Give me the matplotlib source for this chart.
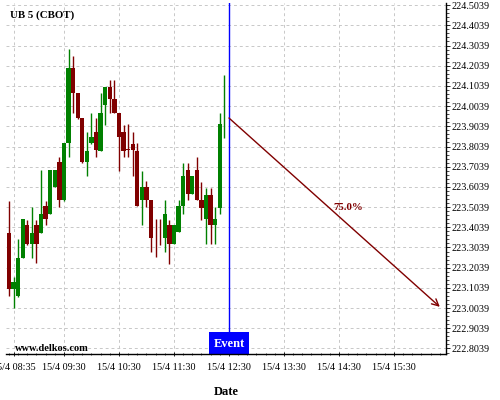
import matplotlib
matplotlib.use("Agg")
import matplotlib.pyplot as plt
from matplotlib.ticker import MultipleLocator, AutoMinorLocator
from matplotlib.patches import Rectangle
import numpy as np

# ---- data (5-minute candles starting 15/4 08:30) ----
opens = [223.378, 223.098, 223.066, 223.254, 223.413, 223.320, 223.413, 223.378,
         223.507, 223.472, 223.602, 223.725, 223.537, 223.819, 224.195, 224.068,
         223.943, 223.725, 223.819, 223.878, 223.784, 224.008, 224.101, 224.037,
         223.972, 223.878, 223.793, 223.817, 223.784, 223.538, 223.601, 223.538,
         223.357, 223.357, 223.352, 223.413, 223.320, 223.380, 223.507, 223.690,
         223.568, 223.690, 223.537, 223.444, 223.566, 223.413, 223.497, 223.944]
closes = [223.098, 223.131, 223.254, 223.443, 223.320, 223.378, 223.320, 223.472,
          223.444, 223.689, 223.689, 223.537, 223.819, 224.195, 224.068, 223.943,
          223.725, 223.784, 223.849, 223.785, 223.972, 224.101, 224.037, 223.972,
          223.850, 223.784, 223.787, 223.787, 223.508, 223.601, 223.538, 223.352,
          223.355, 223.355, 223.472, 223.320, 223.413, 223.507, 223.660, 223.568,
          223.660, 223.537, 223.497, 223.566, 223.413, 223.443, 223.913, 223.947]
highs = [223.535, 223.157, 223.347, 223.443, 223.441, 223.505, 223.441, 223.689,
         223.535, 223.689, 223.689, 223.751, 223.819, 224.288, 224.253, 224.068,
         223.943, 223.878, 223.972, 223.943, 224.068, 224.101, 224.131, 224.131,
         223.972, 223.911, 223.913, 223.878, 223.819, 223.685, 223.631, 223.538,
         223.443, 223.443, 223.537, 223.441, 223.413, 223.537, 223.723, 223.723,
         223.660, 223.753, 223.627, 223.598, 223.598, 223.503, 223.971, 224.160]
lows = [223.065, 223.005, 223.061, 223.251, 223.317, 223.251, 223.225, 223.375,
        223.413, 223.469, 223.601, 223.505, 223.533, 223.753, 223.971, 223.938,
        223.721, 223.659, 223.815, 223.753, 223.783, 223.911, 223.971, 223.971,
        223.685, 223.751, 223.751, 223.660, 223.508, 223.413, 223.505, 223.283,
        223.256, 223.317, 223.283, 223.223, 223.320, 223.380, 223.471, 223.537,
        223.568, 223.537, 223.441, 223.319, 223.319, 223.319, 223.471, 223.847]

start_time = "08:30"
bar_minutes = 5
tick_labels = ["15/4 08:35", "15/4 09:30", "15/4 10:30", "15/4 11:30",
               "15/4 12:30", "15/4 13:30", "15/4 14:30", "15/4 15:30"]
event_time = "12:30"
arrow_start_price = 223.945
arrow_end_time = "16:20"
arrow_end_price = 223.010
arrow_label = "75.0%"
label_time = "14:40"
label_price = 223.500
y_ticks = [222.8039 + 0.1 * k for k in range(18)]


def t2i(t):
    hh, mm = map(int, t.split(":"))
    h0, m0 = map(int, start_time.split(":"))
    return ((hh * 60 + mm) - (h0 * 60 + m0)) / bar_minutes


plt.rcParams['font.family'] = ['Liberation Serif', 'DejaVu Serif']

GREEN = "#008000"
RED = "#800000"
BLUE = "#0000ff"

fig = plt.figure(figsize=(5, 4), dpi=100)
ax = fig.add_axes([0.012, 0.115, 0.880, 0.8775])

YMIN, YMAX = 222.7765, 224.5145
ax.set_xlim(-0.65, 95.35)
ax.set_ylim(YMIN, YMAX)

idx = np.arange(len(opens))
o = np.array(opens); c = np.array(closes)
h = np.array(highs); l = np.array(lows)
up = c >= o
cols = [GREEN if u else RED for u in up]

ax.vlines(idx, l, h, colors=cols, linewidth=1.0, zorder=3)
bottoms = np.minimum(o, c)
heights = np.maximum(np.abs(c - o), 0.003)
ax.bar(idx, heights, bottom=bottoms, width=0.95, color=cols, edgecolor='none',
       linewidth=0, zorder=4)

# event line and box
ev = t2i(event_time)
ax.axvline(ev, color=BLUE, linewidth=1.0, zorder=5)
box_w = 8.9
box_h = 0.109
ax.add_patch(Rectangle((ev - box_w / 2, YMIN), box_w, box_h, facecolor=BLUE,
                       edgecolor='none', zorder=7, clip_on=False))
ax.text(ev, YMIN + box_h * 0.45, "Event", color="white", fontsize=9,
        fontweight='bold', ha='center', va='center', zorder=8)

ax.annotate("", xy=(t2i(arrow_end_time), arrow_end_price),
            xytext=(ev, arrow_start_price),
            arrowprops=dict(arrowstyle="->", color=RED, lw=1.0,
                            shrinkA=0, shrinkB=0, mutation_scale=12),
            zorder=6)
ax.text(t2i(label_time), label_price, arrow_label, color=RED, fontsize=7.8,
        fontweight='bold', ha='center', va='center', zorder=6)

# axes styling
ax.yaxis.tick_right()
ax.set_yticks(y_ticks)
ax.set_yticklabels(["%.4f" % v for v in y_ticks])
ax.yaxis.set_minor_locator(AutoMinorLocator(5))

tick_pos = [t2i(s.split(" ")[1]) for s in tick_labels]
ax.set_xticks(tick_pos)
ax.set_xticklabels(tick_labels)
ax.xaxis.set_minor_locator(MultipleLocator(2))

ax.tick_params(axis='both', which='major', labelsize=7.3, colors='black',
               length=3, width=0.6)
ax.tick_params(axis='both', which='minor', length=2, width=0.5)
ax.tick_params(axis='x', which='both', direction='inout', pad=5)
ax.tick_params(axis='y', which='both', direction='out', pad=1)

for s in ['left', 'top']:
    ax.spines[s].set_visible(False)
for s in ['right', 'bottom']:
    ax.spines[s].set_color('black')
    ax.spines[s].set_linewidth(1.0)
    ax.spines[s].set_zorder(9)

ax.grid(True, which='major', color="#c8c8c8", linestyle=(0, (3, 3)),
        linewidth=0.7, zorder=0)
ax.set_axisbelow(True)

ax.text(0.009, 0.965, "UB 5 (CBOT)", transform=ax.transAxes, fontsize=7.8,
        fontweight='bold', ha='left', va='center')
ax.text(0.020, 0.017, "www.delkos.com", transform=ax.transAxes, fontsize=7.5,
        fontweight='bold', ha='left', va='center')

ax.set_xlabel("Date", fontsize=9, fontweight='bold', labelpad=10)

fig.savefig("out.png", dpi=100)
